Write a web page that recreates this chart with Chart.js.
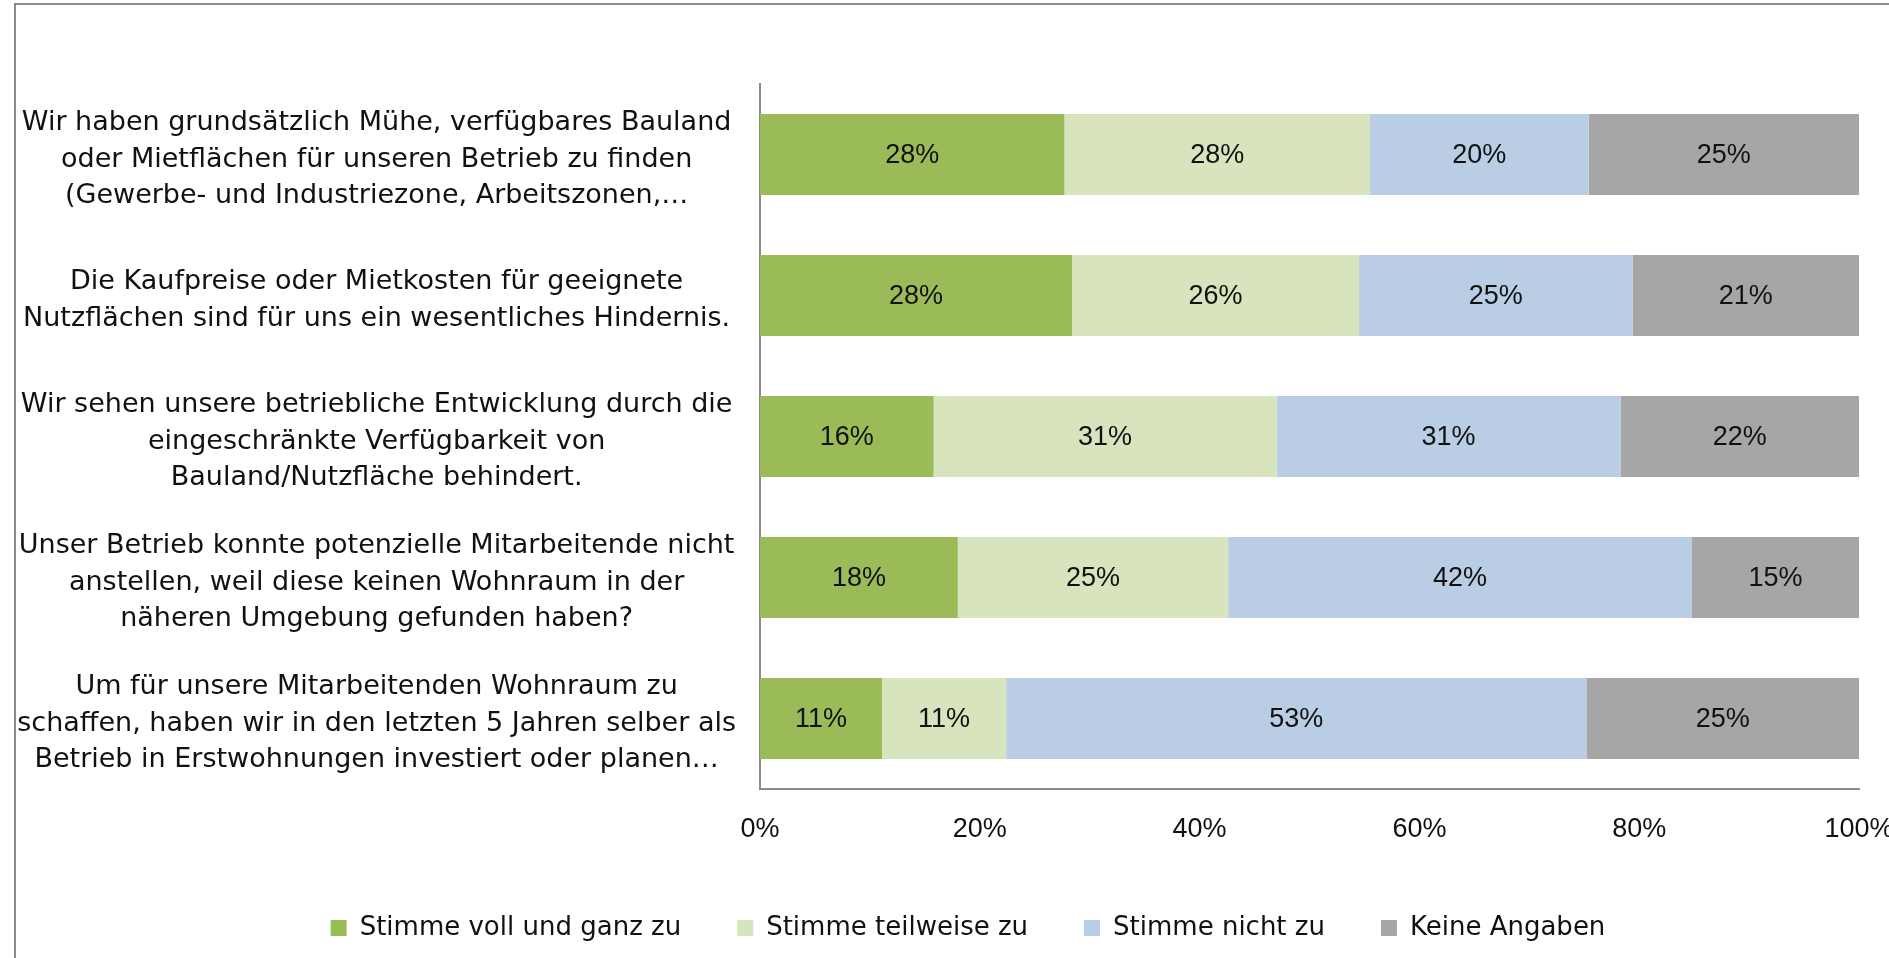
<!DOCTYPE html>
<html lang="de">
<head>
<meta charset="utf-8">
<title>Bauland und Wohnraum</title>
<script src="https://cdn.jsdelivr.net/npm/chart.js@4.4.1/dist/chart.umd.min.js"></script>
<style>
  html, body { margin: 0; padding: 0; background: #fff; overflow: hidden; }
  #frame {
    position: absolute; left: 14px; top: 3px; width: 2000px; height: 1100px;
    border-left: 2px solid #8a8a8a; border-top: 2px solid #8a8a8a;
  }
  /* canvas a bit wider than the window so the legend centre matches */
  #chart { position: absolute; left: 0; top: 0; }
</style>
</head>
<body>
<div id="frame"></div>
<canvas id="chart" width="1936" height="958"></canvas>
<script>
// === DATA ===
const questions = [
  ["Wir haben grundsätzlich Mühe, verfügbares Bauland", "oder Mietflächen für unseren Betrieb zu finden", "(Gewerbe- und Industriezone, Arbeitszonen,…"],
  ["Die Kaufpreise oder Mietkosten für geeignete", "Nutzflächen sind für uns ein wesentliches Hindernis."],
  ["Wir sehen unsere betriebliche Entwicklung durch die", "eingeschränkte Verfügbarkeit von", "Bauland/Nutzfläche behindert."],
  ["Unser Betrieb konnte potenzielle Mitarbeitende nicht", "anstellen, weil diese keinen Wohnraum in der", "näheren Umgebung gefunden haben?"],
  ["Um für unsere Mitarbeitenden Wohnraum zu", "schaffen, haben wir in den letzten 5 Jahren selber als", "Betrieb in Erstwohnungen investiert oder planen…"],
];
const seriesNames = ["Stimme voll und ganz zu", "Stimme teilweise zu", "Stimme nicht zu", "Keine Angaben"];
const vollUndGanz = [27.7, 28.4, 15.8, 18.0, 11.1];
const teilweise = [27.8, 26.1, 31.2, 24.6, 11.3];
const nicht = [19.9, 24.9, 31.3, 42.2, 52.8];
const keineAngaben = [24.6, 20.6, 21.7, 15.2, 24.8];
const xTicks = [0, 20, 40, 60, 80, 100];

const colors = ["#9bbb59", "#d7e4bd", "#b9cde5", "#a6a6a6"];
const axisColor = "#8a8a8a";

// labels in the middle of each segment
const segmentLabels = {
  id: "segmentLabels",
  afterDatasetsDraw(chart) {
    const ctx = chart.ctx;
    ctx.save();
    ctx.font = '27px "Liberation Sans"';
    ctx.fillStyle = "#111";
    ctx.textAlign = "center";
    ctx.textBaseline = "middle";
    chart.data.datasets.forEach((ds, i) => {
      chart.getDatasetMeta(i).data.forEach((bar, j) => {
        const p = bar.getCenterPoint();
        ctx.fillText(Math.round(ds.data[j]) + "%", p.x, p.y + 1);
      });
    });
    ctx.restore();
  },
};

const allSeries = [vollUndGanz, teilweise, nicht, keineAngaben];

new Chart(document.getElementById("chart"), {
  type: "bar",
  data: {
    labels: questions,
    datasets: allSeries.map((values, i) => ({
      label: seriesNames[i],
      data: values,
      backgroundColor: colors[i],
      borderWidth: 0,
      categoryPercentage: 1,
      barPercentage: 0.575,
    })),
  },
  options: {
    indexAxis: "y",
    responsive: false,
    animation: false,
    devicePixelRatio: 1,
    layout: { padding: { top: 84, left: 0, right: 0, bottom: 7 } },
    scales: {
      x: {
        stacked: true,
        min: 0,
        max: 100,
        afterBuildTicks: (scale) => { scale.ticks = xTicks.map((v) => ({ value: v })); },
        afterFit: (scale) => { scale.height = 70; },
        grid: { display: false },
        border: { display: true, color: axisColor, width: 2 },
        ticks: {
          padding: 16,
          color: "#111",
          font: { family: "Liberation Sans", size: 27 },
          callback: (v) => v + "%",
        },
      },
      y: {
        stacked: true,
        afterFit: (scale) => { scale.width = 760; },
        grid: { display: false },
        border: { display: true, color: axisColor, width: 2 },
        ticks: {
          crossAlign: "center",
          padding: 16,
          labelOffset: 5,
          color: "#111",
          font: { family: "DejaVu Sans", size: 27, lineHeight: 1.36 },
        },
      },
      // empty strip on the right, keeps the bars off the edge
      spacer: {
        type: "category",
        axis: "y",
        position: "right",
        afterFit: (scale) => { scale.width = 77; },
        grid: { display: false },
        border: { display: false },
        ticks: { display: false },
      },
    },
    plugins: {
      tooltip: { enabled: false },
      legend: {
        position: "bottom",
        labels: {
          boxWidth: 16,
          boxHeight: 16,
          padding: 56,
          color: "#111",
          font: { family: "DejaVu Sans", size: 26 },
        },
      },
    },
  },
  plugins: [segmentLabels],
});
</script>
</body>
</html>
